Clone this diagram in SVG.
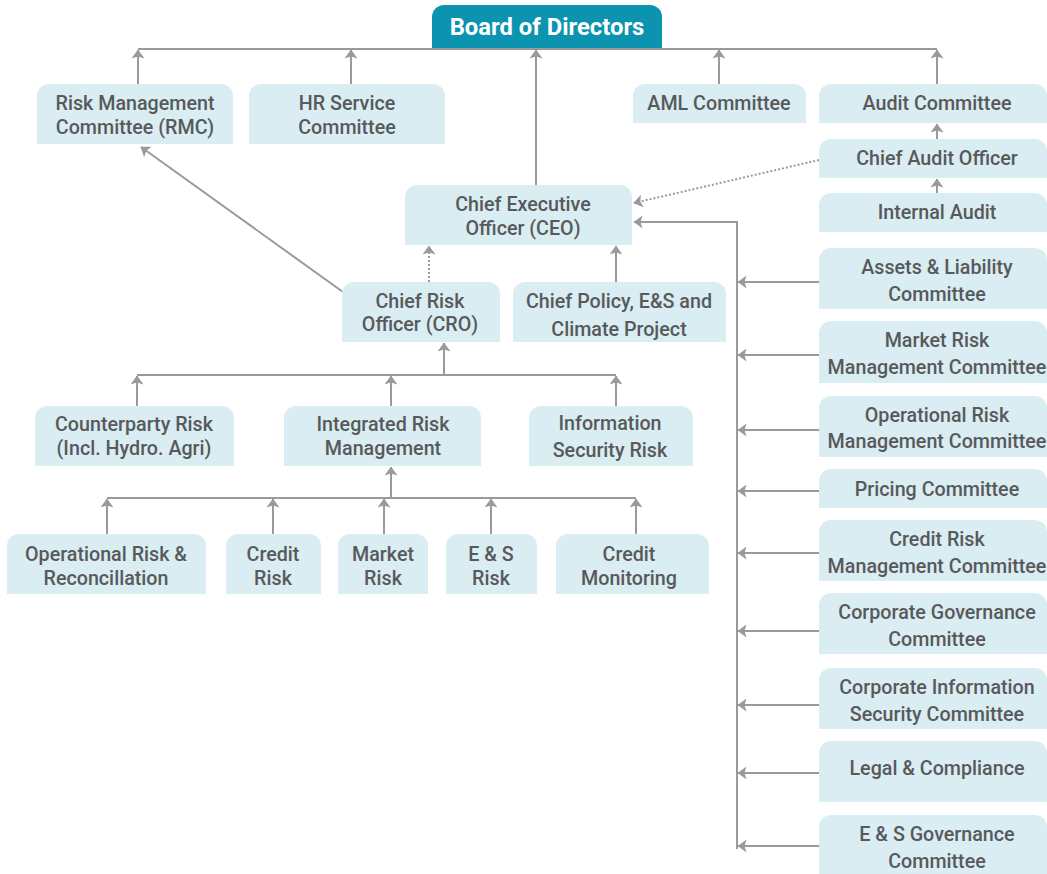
<svg xmlns="http://www.w3.org/2000/svg" width="1047" height="874" viewBox="0 0 1047 874">
<defs>
<marker id="ah" viewBox="0 0 9 13" refX="8.5" refY="6.5" markerWidth="9" markerHeight="13" orient="auto" markerUnits="userSpaceOnUse">
<path d="M0,0 L9,6.5 L0,13 L2,6.5 Z" fill="#9a9a9c"/>
</marker>
</defs>
<style>
.box{fill:#d9edf2}
.board{fill:#0c93b0}
.t{font-family:Roboto,"Liberation Sans",sans-serif;font-weight:500;font-size:19.7px;fill:#58595b;text-anchor:middle}
.bt{font-family:Roboto,"Liberation Sans",sans-serif;font-weight:700;font-size:23.8px;fill:#ffffff;text-anchor:middle}
.c{fill:none;stroke:#9a9a9c;stroke-width:2}
.a{marker-end:url(#ah)}
.d{stroke-dasharray:2 2}
</style>
<rect width="1047" height="874" fill="#ffffff"/>
<g id="connectors">
<path class="c" d="M138,49 H937"/>
<path class="c a" d="M138,84 V50"/>
<path class="c a" d="M351,84 V50"/>
<path class="c a" d="M536,185 V50"/>
<path class="c a" d="M719,84 V50"/>
<path class="c a" d="M937,84 V50"/>
<path class="c a" d="M937,139 V124"/>
<path class="c a" d="M937,193 V179"/>
<path class="c a d" d="M819,160 L634,203"/>
<path class="c a" d="M737,849 V222 H634"/>
<path class="c a" d="M343,292 L141,147"/>
<path class="c a d" d="M429,282 V246"/>
<path class="c a" d="M616,282 V246"/>
<path class="c" d="M137,375 H616"/>
<path class="c a" d="M444,375 V343"/>
<path class="c a" d="M137,406 V376"/>
<path class="c a" d="M391,406 V376"/>
<path class="c a" d="M616,406 V376"/>
<path class="c" d="M107,498 H636"/>
<path class="c a" d="M391,498 V467"/>
<path class="c a" d="M107,534 V499"/>
<path class="c a" d="M273,534 V499"/>
<path class="c a" d="M384,534 V499"/>
<path class="c a" d="M491,534 V499"/>
<path class="c a" d="M636,534 V499"/>
<path class="c a" d="M819,282 H738"/>
<path class="c a" d="M819,355 H738"/>
<path class="c a" d="M819,430 H738"/>
<path class="c a" d="M819,491 H738"/>
<path class="c a" d="M819,553 H738"/>
<path class="c a" d="M819,631 H738"/>
<path class="c a" d="M819,705 H738"/>
<path class="c a" d="M819,773 H738"/>
<path class="c a" d="M819,846 H738"/>
</g>
<g id="board"><path class="board" d="M432,48 V17 A12,12 0 0 1 444,5 H650 A12,12 0 0 1 662,17 V48 Z"/><text class="bt" x="547" y="35">Board of Directors</text></g>
<g id="rmc"><path class="box" d="M37,144 V96 A12,12 0 0 1 49,84 H221 A12,12 0 0 1 233,96 V144 Z"/><text class="t" x="135" y="110">Risk Management</text><text class="t" x="135" y="134">Committee (RMC)</text></g>
<g id="hr"><path class="box" d="M249,144 V96 A12,12 0 0 1 261,84 H433 A12,12 0 0 1 445,96 V144 Z"/><text class="t" x="347" y="110">HR Service</text><text class="t" x="347" y="134">Committee</text></g>
<g id="aml"><path class="box" d="M633,123 V96 A12,12 0 0 1 645,84 H794 A12,12 0 0 1 806,96 V123 Z"/><text class="t" x="719" y="110">AML Committee</text></g>
<g id="audit"><path class="box" d="M819,123 V96 A12,12 0 0 1 831,84 H1035 A12,12 0 0 1 1047,96 V123 Z"/><text class="t" x="937" y="110">Audit Committee</text></g>
<g id="cao"><path class="box" d="M819,178 V151 A12,12 0 0 1 831,139 H1035 A12,12 0 0 1 1047,151 V178 Z"/><text class="t" x="937" y="165">Chief Audit Officer</text></g>
<g id="ia"><path class="box" d="M819,232 V205 A12,12 0 0 1 831,193 H1035 A12,12 0 0 1 1047,205 V232 Z"/><text class="t" x="937" y="219">Internal Audit</text></g>
<g id="ceo"><path class="box" d="M405,245 V197 A12,12 0 0 1 417,185 H620 A12,12 0 0 1 632,197 V245 Z"/><text class="t" x="523" y="211">Chief Executive</text><text class="t" x="523" y="235">Officer (CEO)</text></g>
<g id="cro"><path class="box" d="M342,342 V294 A12,12 0 0 1 354,282 H488 A12,12 0 0 1 500,294 V342 Z"/><text class="t" x="420" y="308">Chief Risk</text><text class="t" x="420" y="331">Officer (CRO)</text></g>
<g id="cp"><path class="box" d="M513,342 V294 A12,12 0 0 1 525,282 H714 A12,12 0 0 1 726,294 V342 Z"/><text class="t" x="619" y="308">Chief Policy, E&amp;S and</text><text class="t" x="619" y="336">Climate Project</text></g>
<g id="counterparty"><path class="box" d="M35,466 V418 A12,12 0 0 1 47,406 H222 A12,12 0 0 1 234,418 V466 Z"/><text class="t" x="134" y="431">Counterparty Risk</text><text class="t" x="134" y="455">(Incl. Hydro. Agri)</text></g>
<g id="irm"><path class="box" d="M284,466 V418 A12,12 0 0 1 296,406 H469 A12,12 0 0 1 481,418 V466 Z"/><text class="t" x="383" y="431">Integrated Risk</text><text class="t" x="383" y="455">Management</text></g>
<g id="infosec"><path class="box" d="M529,466 V418 A12,12 0 0 1 541,406 H681 A12,12 0 0 1 693,418 V466 Z"/><text class="t" x="610" y="430">Information</text><text class="t" x="610" y="457">Security Risk</text></g>
<g id="oprisk"><path class="box" d="M7,594 V546 A12,12 0 0 1 19,534 H194 A12,12 0 0 1 206,546 V594 Z"/><text class="t" x="106" y="561">Operational Risk &amp;</text><text class="t" x="106" y="585">Reconcillation</text></g>
<g id="credit"><path class="box" d="M226,594 V546 A12,12 0 0 1 238,534 H309 A12,12 0 0 1 321,546 V594 Z"/><text class="t" x="273" y="561">Credit</text><text class="t" x="273" y="585">Risk</text></g>
<g id="market"><path class="box" d="M338,594 V546 A12,12 0 0 1 350,534 H416 A12,12 0 0 1 428,546 V594 Z"/><text class="t" x="383" y="561">Market</text><text class="t" x="383" y="585">Risk</text></g>
<g id="esrisk"><path class="box" d="M446,594 V546 A12,12 0 0 1 458,534 H525 A12,12 0 0 1 537,546 V594 Z"/><text class="t" x="491" y="561">E &amp; S</text><text class="t" x="491" y="585">Risk</text></g>
<g id="cm"><path class="box" d="M556,594 V546 A12,12 0 0 1 568,534 H697 A12,12 0 0 1 709,546 V594 Z"/><text class="t" x="629" y="561">Credit</text><text class="t" x="629" y="585">Monitoring</text></g>
<g id="alco"><path class="box" d="M819,309 V260 A12,12 0 0 1 831,248 H1035 A12,12 0 0 1 1047,260 V309 Z"/><text class="t" x="937" y="274">Assets &amp; Liability</text><text class="t" x="937" y="301">Committee</text></g>
<g id="mrmc"><path class="box" d="M819,383 V333 A12,12 0 0 1 831,321 H1035 A12,12 0 0 1 1047,333 V383 Z"/><text class="t" x="937" y="347">Market Risk</text><text class="t" x="937" y="374">Management Committee</text></g>
<g id="ormc"><path class="box" d="M819,457 V408 A12,12 0 0 1 831,396 H1035 A12,12 0 0 1 1047,408 V457 Z"/><text class="t" x="937" y="422">Operational Risk</text><text class="t" x="937" y="448">Management Committee</text></g>
<g id="pricing"><path class="box" d="M819,508 V481 A12,12 0 0 1 831,469 H1035 A12,12 0 0 1 1047,481 V508 Z"/><text class="t" x="937" y="496">Pricing Committee</text></g>
<g id="crmc"><path class="box" d="M819,581 V532 A12,12 0 0 1 831,520 H1035 A12,12 0 0 1 1047,532 V581 Z"/><text class="t" x="937" y="546">Credit Risk</text><text class="t" x="937" y="573">Management Committee</text></g>
<g id="cgc"><path class="box" d="M819,654 V605 A12,12 0 0 1 831,593 H1035 A12,12 0 0 1 1047,605 V654 Z"/><text class="t" x="937" y="619">Corporate Governance</text><text class="t" x="937" y="646">Committee</text></g>
<g id="cisc"><path class="box" d="M819,729 V680 A12,12 0 0 1 831,668 H1035 A12,12 0 0 1 1047,680 V729 Z"/><text class="t" x="937" y="694">Corporate Information</text><text class="t" x="937" y="721">Security Committee</text></g>
<g id="legal"><path class="box" d="M819,802 V753 A12,12 0 0 1 831,741 H1035 A12,12 0 0 1 1047,753 V802 Z"/><text class="t" x="937" y="775">Legal &amp; Compliance</text></g>
<g id="esg"><path class="box" d="M819,874 V827 A12,12 0 0 1 831,815 H1035 A12,12 0 0 1 1047,827 V874 Z"/><text class="t" x="937" y="841">E &amp; S Governance</text><text class="t" x="937" y="868">Committee</text></g>
</svg>
